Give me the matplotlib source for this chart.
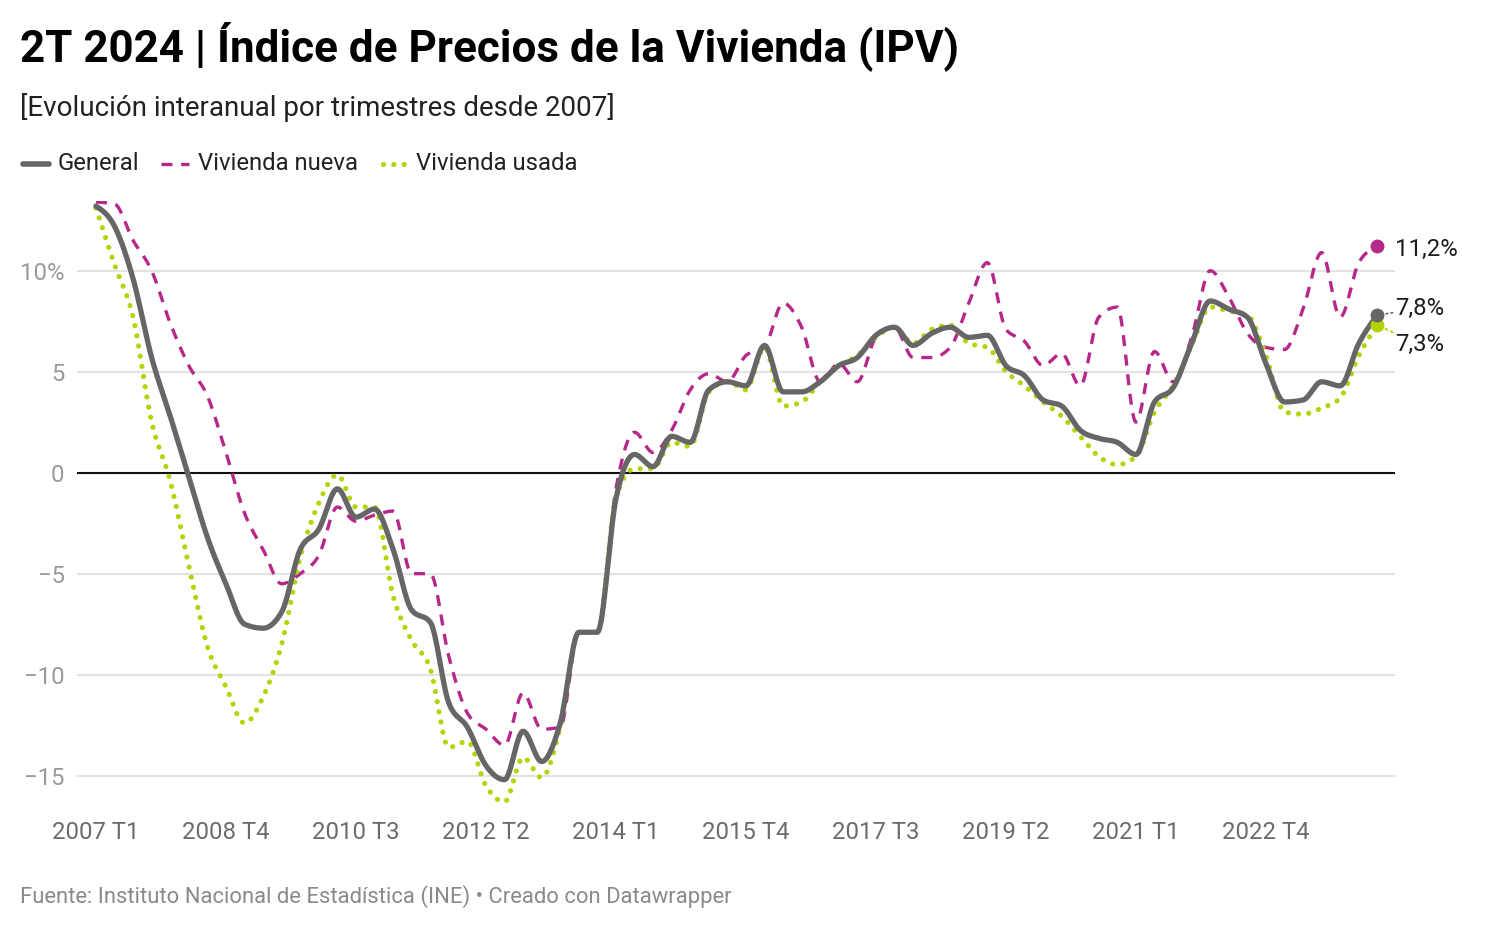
import numpy as np
import matplotlib
matplotlib.use("Agg")
import matplotlib.pyplot as plt
from matplotlib.lines import Line2D

plt.rcParams['font.family'] = ['Roboto', 'DejaVu Sans']

# ---------------- data ----------------
years = list(range(2007, 2025))
quarters = [f"{y} T{q}" for y in years for q in (1, 2, 3, 4)][:70]

general = [13.2, 12.2, 9.6, 5.7, 2.8, -0.2, -3.2, -5.5, -7.5, -7.7,
           -6.9, -3.8, -2.8, -0.8, -2.2, -1.8, -3.8, -6.8, -7.4, -11.4,
           -12.6, -14.5, -15.2, -12.8, -14.3, -12.4, -7.9, -7.9, -1.3, 0.9,
           0.3, 1.8, 1.5, 4.1, 4.5, 4.3, 6.3, 4.0, 4.0, 4.5,
           5.3, 5.7, 6.8, 7.2, 6.3, 6.9, 7.2, 6.7, 6.8, 5.3,
           4.8, 3.6, 3.3, 2.1, 1.7, 1.5, 0.9, 3.5, 4.2, 6.4,
           8.5, 8.1, 7.7, 5.4, 3.5, 3.6, 4.5, 4.3, 6.4, 7.8]

nueva = [13.4, 13.3, 11.5, 10.0, 7.4, 5.3, 3.8, 1.0, -2.0, -3.8,
         -5.5, -5.0, -4.1, -1.7, -2.4, -2.1, -1.9, -5.0, -5.0, -9.1,
         -11.9, -12.7, -13.5, -10.9, -12.7, -12.6, -7.9, -7.9, -0.8, 2.0,
         1.0, 2.1, 4.1, 4.9, 4.5, 5.8, 6.2, 8.4, 7.2, 4.5,
         5.4, 4.5, 6.7, 7.2, 5.7, 5.7, 6.2, 8.4, 10.4, 7.1,
         6.5, 5.3, 5.9, 4.3, 7.7, 8.2, 2.5, 6.0, 4.5, 6.7,
         10.0, 8.7, 6.9, 6.2, 6.1, 8.1, 10.9, 7.7, 10.4, 11.2]

usada = [13.1, 10.3, 7.7, 2.5, -0.4, -4.6, -8.6, -10.6, -12.4, -11.1,
         -8.5, -4.2, -1.5, -0.1, -1.7, -1.7, -6.1, -8.3, -9.7, -13.6,
         -13.3, -15.5, -16.3, -14.1, -15.1, -12.6, -7.9, -7.9, -1.2, 0.2,
         0.2, 1.5, 1.3, 4.0, 4.5, 4.1, 6.2, 3.3, 3.5, 4.5,
         5.3, 5.8, 6.7, 7.2, 6.4, 7.1, 7.3, 6.4, 6.2, 5.0,
         4.3, 3.5, 2.8, 1.8, 0.8, 0.4, 0.8, 3.0, 4.3, 6.3,
         8.2, 8.0, 7.8, 5.8, 3.0, 2.9, 3.2, 3.7, 5.8, 7.3]

series_names = ["General", "Vivienda nueva", "Vivienda usada"]
end_labels = ["7,8%", "11,2%", "7,3%"]
yticks = [-15, -10, -5, 0, 5, 10]
ytick_labels = ["\u221215", "\u221210", "\u22125", "0", "5", "10%"]
xtick_idx = list(range(0, 70, 7))

C_GEN = "#666666"
C_NEW = "#b5288a"
C_OLD = "#b4d300"


def monotone_x(x, y, n=16):
    """d3 curveMonotoneX rendering of a polyline."""
    x = np.asarray(x, float); y = np.asarray(y, float)
    h = np.diff(x); s = np.diff(y) / h
    m = np.zeros_like(y)
    for i in range(1, len(y) - 1):
        s0, s1 = s[i - 1], s[i]
        p = (s0 * h[i] + s1 * h[i - 1]) / (h[i - 1] + h[i])
        m[i] = (np.sign(s0) + np.sign(s1)) * min(abs(s0), abs(s1), 0.5 * abs(p))
    m[0] = (3 * s[0] - m[1]) / 2
    m[-1] = (3 * s[-1] - m[-2]) / 2
    xs, ys = [], []
    for i in range(len(h)):
        t = np.linspace(0, 1, n, endpoint=False)
        h00 = 2*t**3 - 3*t**2 + 1; h10 = t**3 - 2*t**2 + t
        h01 = -2*t**3 + 3*t**2; h11 = t**3 - t**2
        xs.append(x[i] + t * h[i])
        ys.append(h00*y[i] + h10*h[i]*m[i] + h01*y[i+1] + h11*h[i]*m[i+1])
    xs.append([x[-1]]); ys.append([y[-1]])
    return np.concatenate(xs), np.concatenate(ys)


W, H = 1498, 930
fig = plt.figure(figsize=(W / 100, H / 100), dpi=100)

# main axes (pixel placement)
ax_l, ax_r, ax_t, ax_b = 77, 1395, 201, 809
ax = fig.add_axes([ax_l / W, 1 - ax_b / H, (ax_r - ax_l) / W, (ax_b - ax_t) / H])
idx = np.arange(len(general))
ax.set_xlim(-1.02, 69.95)
ax.set_ylim(-16.65, 13.45)

for v in yticks:
    if v == 0:
        ax.axhline(0, color="#111111", lw=1.5, zorder=2)
    else:
        ax.axhline(v, color="#e3e3e3", lw=1.5, zorder=1)

xg, yg = monotone_x(idx, general)
xn, yn = monotone_x(idx, nueva)
xu, yu = monotone_x(idx, usada)
ax.plot(xn, yn, color=C_NEW, lw=2.4, linestyle=(0, (3.3, 2.6)), zorder=3)
ax.plot(xu, yu, color=C_OLD, lw=3.7, linestyle=(0, (0.01, 2.0)),
        dash_capstyle="round", zorder=4)
ax.plot(xg, yg, color=C_GEN, lw=3.8, solid_capstyle="round",
        solid_joinstyle="round", zorder=5)

# end points and labels
last = idx[-1]
ax.plot([last], [nueva[-1]], "o", color=C_NEW, ms=9, zorder=6)
ax.plot([last], [usada[-1]], "o", color=C_OLD, ms=9, zorder=6)
ax.plot([last], [general[-1]], "o", color=C_GEN, ms=9, zorder=7)

LBL = 17.2
ax.annotate(end_labels[1], xy=(last, nueva[-1]), xytext=(13, -2),
            textcoords="offset points", va="center", ha="left",
            fontsize=LBL, color="#1d1d1d")
ax.annotate(end_labels[0], xy=(last, general[-1]), xytext=(13, 5),
            textcoords="offset points", va="center", ha="left",
            fontsize=LBL, color="#1d1d1d",
            arrowprops=dict(arrowstyle="-", color=C_GEN, lw=1.2, ls=(0, (1, 2)),
                            shrinkA=0, shrinkB=2))
ax.annotate(end_labels[2], xy=(last, usada[-1]), xytext=(13, -14),
            textcoords="offset points", va="center", ha="left",
            fontsize=LBL, color="#1d1d1d",
            arrowprops=dict(arrowstyle="-", color=C_OLD, lw=1.4, ls=(0, (1, 2)),
                            shrinkA=0, shrinkB=2))

ax.set_yticks(yticks)
ax.set_yticklabels(ytick_labels)
ax.set_xticks(xtick_idx)
ax.set_xticklabels([quarters[i] for i in xtick_idx])
ax.tick_params(axis="y", length=0, pad=9, labelsize=17.2, labelcolor="#9a9a9a")
ax.tick_params(axis="x", length=0, pad=8.5, labelsize=17.2, labelcolor="#6b6b6b")
for sp in ax.spines.values():
    sp.set_visible(False)

# header / footer overlay in pixel coords
ov = fig.add_axes([0, 0, 1, 1], zorder=-1)
ov.set_xlim(0, W); ov.set_ylim(H, 0); ov.axis("off")
ov.text(20, 61, "2T 2024 | Índice de Precios de la Vivienda (IPV)",
        fontsize=31.7, fontweight="bold", color="#000000", va="baseline", ha="left")
ov.text(20, 116, "[Evolución interanual por trimestres desde 2007]",
        fontsize=20, color="#222222", va="baseline", ha="left")

ly = 164
ov.add_line(Line2D([23, 49], [ly, ly], color=C_GEN, lw=4, solid_capstyle="round"))
ov.text(58, ly, series_names[0], fontsize=17.2, color="#222222", va="center", ha="left")
ov.add_line(Line2D([161, 189], [ly, ly], color=C_NEW, lw=2.4, linestyle=(0, (3.3, 2.6))))
ov.text(198, ly, series_names[1], fontsize=17.2, color="#222222", va="center", ha="left")
ov.add_line(Line2D([383, 404], [ly, ly], color=C_OLD, lw=3.7, linestyle=(0, (0.01, 2.0)),
                   dash_capstyle="round"))
ov.text(416, ly, series_names[2], fontsize=17.2, color="#222222", va="center", ha="left")

ov.text(20, 897, "Fuente: Instituto Nacional de Estadística (INE) \u2022 Creado con Datawrapper",
        fontsize=15.8, color="#8a8a8a", va="center", ha="left")

fig.savefig("out.png", dpi=100, facecolor="white")
